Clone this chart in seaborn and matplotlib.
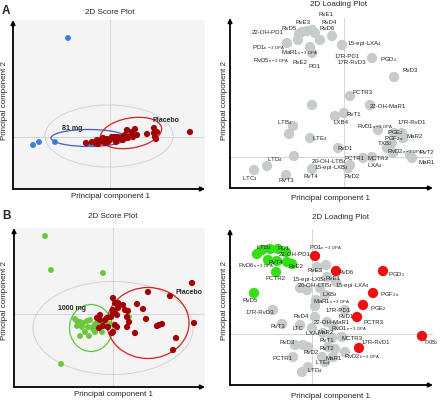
import pandas as pd
import seaborn as sns
import matplotlib.pyplot as plt
from matplotlib.patches import Ellipse

sns.set_style('white')
plt.rcParams['font.family'] = ['Liberation Sans', 'DejaVu Sans']
plt.rcParams['mathtext.default'] = 'regular'

# ---------------- data ----------------
# A: score plot (81 mg vs placebo)
a_blue_pc1 = [-4.2, -7.7, -7.1, -5.5, -2.0, -1.3]
a_blue_pc2 = [9.9, -0.8, -0.5, -0.5, -0.7, -0.6]
a_red_pc1 = [-2.4, -1.8, -1.5, -1.3, -1.0, -0.7, -0.5, -0.3, 0.0, 0.3, 0.5, 0.7, 0.8, 1.0, 1.2, 1.5,
             1.7, 1.8, 2.2, 2.3, 2.5, 2.7, 3.7, 4.4, 4.4, 4.5, 4.6, 4.7, 8.0, -0.2, 0.2, 0.6, -1.2,
             -0.8, 1.3, 2.0]
a_red_pc2 = [-0.6, -0.5, -0.6, -0.3, -0.5, -0.1, -0.6, -0.2, -0.3, -0.1, 0.0, -0.3, 0.0, -0.2, 0.0, 0.2,
             0.7, -0.1, 0.5, 0.0, 0.8, 0.2, 0.3, 0.9, 0.4, 0.0, -0.2, 0.5, 0.5, -0.5, 0.0, -0.5, -0.7,
             -0.2, -0.3, 0.1]

# B: score plot (1000 mg vs placebo)
b_green_pc1 = [-6.8, -6.2, -1.0, -5.2, -3.8, -3.6, -3.3, -3.0, -3.6, -3.1, -2.8, -2.5, -2.3, -2.0, -1.8,
               -1.6, -1.5, -1.3, -1.1, -1.0, -3.3, -2.4, -1.8, -0.6, -0.3, 1.6, -2.6, -2.0, -0.1]
b_green_pc2 = [7.8, 4.4, 4.1, -5.0, -0.5, -0.7, -0.8, -0.9, -1.2, -1.3, -1.8, -1.3, -0.6, -1.3, -1.0,
               -0.9, -0.9, -1.2, -1.8, -0.9, -2.2, -2.2, -1.8, -1.3, -1.0, -0.3, -0.7, -1.5, 0.1]
b_red_pc1 = [7.9, 3.5, 5.7, 0.0, 1.0, 1.2, 0.2, 0.4, 0.5, 2.4, 3.0, 3.3, 1.5, 0.0, 0.2, 0.4, -0.2, -0.6,
             -1.3, -1.5, -1.6, -1.3, -0.5, 0.2, 0.4, 0.0, -0.1, 1.4, 1.6, 1.4, 2.2, 4.4, 4.6, 4.9, 8.1,
             6.3, 6.0, -1.4, -1.0, -0.8, 0.5, 0.0]
b_red_pc2 = [3.1, 2.2, 1.8, 1.6, 0.9, 0.4, 1.1, 1.0, 1.1, 1.0, 0.5, -0.5, 0.3, 0.2, 0.1, -0.1, -0.3, -0.4,
             -0.1, -0.4, -0.4, -0.6, -1.3, -1.1, -1.3, -1.8, -1.9, -0.3, -0.8, -1.3, -1.9, -1.2, -1.1,
             -1.0, -0.9, -2.4, -3.6, -1.4, -1.2, -0.6, 0.6, 0.4]

# A: loadings
a_load_pc1 = [-5.7, -4.5, -4.2, -3.7, -3.2, -2.9, -4.6, -3.4, -3.2, -2.4, -1.2, -0.2, 2.8, 5.0, 0.6,
              -3.2, 2.6, -0.9, 0.0, -5.1, -5.5, -3.4, 3.4, 5.0, 5.8, 5.9, 4.8, 4.3, 4.9, 6.6, 6.8,
              -0.6, -5.0, 1.9, 2.8, 0.6, 0.4, -9.0, -7.7, -5.8, -3.2]
a_load_pc2 = [11.4, 12.3, 12.5, 12.6, 12.7, 12.4, 11.7, 11.0, 10.4, 11.7, 12.1, 11.2, 9.9, 8.0, 6.1,
              5.2, 5.2, 4.1, 4.4, 3.1, 2.3, 1.9, 2.7, 2.4, 2.4, 1.9, 1.4, 0.9, 0.4, 0.2, -0.1,
              0.9, 0.1, -0.1, 0.0, -0.8, -1.1, -1.3, -0.9, -1.8, -1.2]

# B: loadings (green = lower with 1000 mg, red = higher, grey = unchanged)
b_up_pc1 = [-5.5, -5.0, -4.2, -3.4, -2.6, -4.4, -3.5, -2.5, -2.0, -3.6, -5.8]
b_up_pc2 = [8.0, 8.4, 8.5, 8.5, 8.2, 7.4, 7.3, 7.2, 7.0, 6.2, 4.1]
b_down_pc1 = [0.3, 2.4, 7.1, 6.1, 5.1, 4.5, 11.0, 4.7]
b_down_pc2 = [7.8, 6.3, 6.3, 4.1, 2.9, 1.7, -0.2, -1.4]
b_same_pc1 = [0.5, 1.4, 1.5, 2.4, -1.2, -0.5, 0.8, 1.3, 0.4, 0.3, -3.9, 3.3, 0.3, -3.0, -1.2, 0.0, 1.5,
              2.1, 1.1, 2.0, 3.0, -1.7, -0.9, -0.4, 1.6, 2.3, 3.3, -1.9, 1.0, 2.1, 1.3, -0.4, -1.0]
b_same_pc2 = [6.7, 6.9, 5.7, 5.2, 4.6, 4.4, 4.6, 3.9, 3.4, 2.8, 2.4, 2.4, 1.7, 1.0, 0.9, 0.6, 1.2,
              0.8, 0.1, -0.4, -0.3, -1.1, -1.1, -1.3, -1.3, -1.5, -1.8, -2.3, -2.3, -2.3, -2.8, -3.3, -3.8]

DPA = r'$_{n-3\ DPA}$'

a_labels = [
    ('RvE1', -2.6, 14.2), ('RvE3', -4.9, 13.5), ('RvD4', -2.3, 13.4), ('RvD5', -6.3, 12.9),
    ('RvD6', -2.5, 12.8), ('22-OH-PD1', -9.2, 12.4), ('PD1' + DPA, -9.2, 10.9),
    ('MaR1' + DPA, -6.3, 10.4), ('RvD5' + DPA, -9.1, 9.6), ('RvE2', -5.2, 9.5), ('PD1', -3.6, 9.0),
    ('15-epi-LXA$_4$', 0.3, 11.4), ('17R-PD1', -0.9, 10.1), ('17R-RvD3', -0.6, 9.4),
    ('PGD$_2$', 3.6, 9.7), ('RvD3', 5.8, 8.6), ('PCTR3', 0.8, 6.5), ('22-OH-MaR1', 2.6, 5.0),
    ('RvT1', 0.2, 4.3), ('LXB4', -1.1, 3.5), ('17R-RvD1', 5.4, 3.5), ('RvD1' + DPA, 1.3, 3.0),
    ('PGE$_2$', 4.3, 2.4), ('MaR2', 6.2, 2.0), (r'PGF$_{2\alpha}$', 4.0, 1.8), ('TXB$_2$', 3.3, 1.3),
    ('RvD2' + DPA, 4.3, 0.5), ('RvT2', 7.5, 0.4), ('MaR1', 7.4, -0.6), ('RvD1', -0.7, 0.8),
    ('PCTR1', 0.0, -0.1), ('MCTR3', 2.3, -0.2), ('LXA$_4$', 2.3, -0.9), ('RvD2', 0.0, -2.0),
    ('LTB$_4$', -6.7, 3.4), ('LTE$_4$', -3.2, 1.8), ('LTD$_4$', -7.7, -0.3), ('LTC$_4$', -10.2, -2.2),
    ('RVT3', -6.6, -2.4), ('RvT4', -4.1, -1.9), ('20-OH-LTB$_4$', -3.3, -0.5),
    ('15-epi-LXB$_4$', -3.0, -1.0),
]

b_labels = [
    ('LTB$_4$', -5.6, 8.6), ('PD1', -3.5, 8.6), ('22-OH-PD1', -3.3, 7.9), ('RvD6' + DPA, -7.4, 6.8),
    ('RvT4', -4.4, 7.1), ('RvE2', -2.4, 6.7), ('PCTR2', -4.7, 5.6), ('PD1' + DPA, -0.3, 8.6),
    ('RvE3', -0.5, 6.3), ('RvD6', 2.6, 6.2), ('PGD$_2$', 7.6, 5.9), ('15-epi-LXB$_4$', -2.0, 5.5),
    ('RvE1', 1.3, 5.6), ('20-OH-LTB$_4$', -1.5, 4.8), ('15-epi-LXA$_4$', 2.3, 4.9), ('LXB$_4$', 1.0, 3.9),
    (r'PGF$_{2\alpha}$', 6.8, 3.9), ('RvD5', -7.0, 3.3), ('MaR1' + DPA, 0.1, 3.2), ('17R-RvD3', -6.6, 2.1),
    ('PGE$_2$', 5.8, 2.5), ('17R-PD1', 1.4, 2.4), ('RvD1', 2.6, 1.7), ('PCTR3', 5.1, 1.1),
    ('RvD4', -1.9, 1.7), ('RvT3', -4.2, 0.8), ('LTC', -2.0, 0.6), ('22-OH-MaR1', 0.2, 1.1),
    ('RvD1' + DPA, 1.9, 0.5), ('LXA$_4$', -0.7, 0.0), ('MaR2', 0.5, 0.1), ('RvT1', 0.7, -0.6),
    ('MCTR3', 2.9, -0.5), ('17R-RvD1', 5.0, -0.9), ('TXB$_2$', 11.1, -0.9), ('RvD3', -3.3, -0.9),
    ('RvD2', -0.9, -1.8), ('RvT2', 0.7, -1.5), ('PCTR1', -4.0, -2.4), ('MaR1', 1.3, -2.4),
    ('RvD2' + DPA, 3.2, -2.3), ('LTE$_4$', 0.3, -2.9), ('LTD$_4$', -0.5, -3.7),
]

# ---------------- figure ----------------
W, H = 440, 401
fig = plt.figure(figsize=(4.4, 4.01), dpi=100)


def rect(l, t, r, b):
    return [l / W, 1 - b / H, (r - l) / W, (b - t) / H]


def ftext(x, y, s, **kw):
    fig.text(x / W, 1 - y / H, s, ha=kw.pop('ha', 'center'), va=kw.pop('va', 'center'), **kw)


def base_axes(box, xlim, ylim, face):
    ax = fig.add_axes(rect(*box))
    ax.set_facecolor(face)
    ax.set_xlim(*xlim)
    ax.set_ylim(*ylim)
    ax.set_xticks([])
    ax.set_yticks([])
    for s in ax.spines.values():
        s.set_visible(False)
    ax.axhline(0, color='#cfcfcf', lw=0.6, zorder=0)
    ax.axvline(0, color='#cfcfcf', lw=0.6, zorder=0)
    arrow = dict(arrowstyle='-|>', color='black', lw=1.3, mutation_scale=6, shrinkA=0, shrinkB=0)
    ax.annotate('', xy=(0, 1), xytext=(0, 0), xycoords='axes fraction', arrowprops=arrow)
    ax.annotate('', xy=(1, 0), xytext=(0, 0), xycoords='axes fraction', arrowprops=arrow)
    return ax


def dots(ax, x, y, color, size):
    sns.scatterplot(x=x, y=y, color=color, s=size, edgecolor='none', ax=ax, zorder=3, legend=False)


def ell(ax, c, w, h, color, angle=0, lw=0.9):
    ax.add_patch(Ellipse(c, w, h, angle=angle, fill=False, edgecolor=color, lw=lw, zorder=2))


# A score
ax = base_axes((13, 20, 205, 189), (-9.7, 9.5), (-5.2, 11.7), '#f4f4f4')
ell(ax, (-0.1, 0.1), 12.8, 6.2, '#d2d2d2', lw=0.7)
dots(ax, a_blue_pc1, a_blue_pc2, '#3b7fdd', 18)
dots(ax, a_red_pc1, a_red_pc2, '#a20000', 20)
ell(ax, (-2.1, -0.1), 7.6, 1.7, '#3b5fd0')
ell(ax, (2.1, 0.4), 6.2, 3.0, '#d42020', angle=10)
ax.text(-4.8, 0.9, '81 mg', fontsize=5, fontweight='bold', va='center')
ax.text(4.2, 1.6, 'Placebo', fontsize=5, fontweight='bold', va='center')

# A loading
ax = base_axes((230, 18, 433, 188), (-11.4, 8.9), (-3.1, 13.9), 'white')
dots(ax, a_load_pc1, a_load_pc2, '#c5ccc9', 55)
for lab, x, y in a_labels:
    ax.text(x, y, lab, fontsize=4.4, va='center', ha='left', zorder=4, clip_on=False)

# B score
ax = base_axes((14, 228, 205, 387), (-9.9, 9.2), (-7.3, 8.6), '#f4f4f4')
ell(ax, (0.0, -1.4), 16.0, 9.3, '#d2d2d2', lw=0.7)
dots(ax, b_green_pc1, b_green_pc2, '#6cc63c', 18)
dots(ax, b_red_pc1, b_red_pc2, '#a20000', 20)
ell(ax, (-2.2, -1.4), 4.3, 4.7, '#55cc33')
ell(ax, (3.5, -0.9), 8.2, 7.1, '#d42020')
ax.text(-5.5, 0.6, '1000 mg', fontsize=5, fontweight='bold', va='center')
ax.text(6.3, 2.2, 'Placebo', fontsize=5, fontweight='bold', va='center')

# B loading
ax = base_axes((230, 229, 433, 385), (-8.2, 12.1), (-5.1, 10.5), 'white')
dots(ax, b_same_pc1, b_same_pc2, '#c5ccc9', 55)
dots(ax, b_up_pc1, b_up_pc2, '#33e014', 55)
dots(ax, b_down_pc1, b_down_pc2, '#ee1010', 55)
for lab, x, y in b_labels:
    ax.text(x, y, lab, fontsize=4.4, va='center', ha='left', zorder=4, clip_on=False)

# titles, axis labels, panel letters
ftext(110, 13, '2D Score Plot', fontsize=5.8)
ftext(338, 5, '2D Loading Plot', fontsize=5.8)
ftext(113, 216, '2D Score Plot', fontsize=5.8)
ftext(340, 217, '2D Loading Plot', fontsize=5.8)
for x, y in [(110, 197), (330, 198), (113, 395), (330, 396)]:
    ftext(x, y, 'Principal component 1', fontsize=5.8)
for x, y in [(5, 100), (224, 100), (5, 300), (224, 300)]:
    ftext(x, y, 'Principal component 2', fontsize=5.8, rotation=90)
ftext(2, 11, 'A', fontsize=8.5, fontweight='bold', ha='left')
ftext(2, 216, 'B', fontsize=8.5, fontweight='bold', ha='left')

fig.savefig('out.png', dpi=100)
